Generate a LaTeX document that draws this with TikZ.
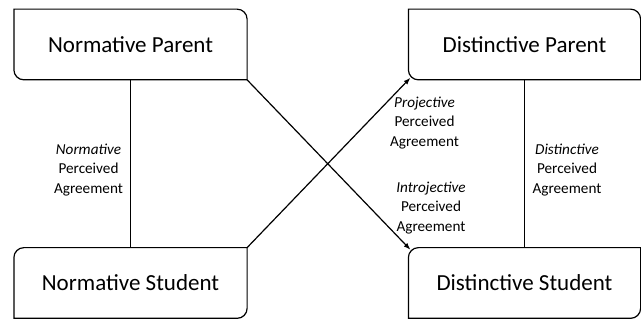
\documentclass[tikz,border=0pt]{standalone}
\usepackage{fontspec}
\setmainfont{Carlito}
\usetikzlibrary{arrows.meta}

\tikzset{
  box/.style={minimum width=232pt, minimum height=69.5pt, inner sep=0pt,
    font=\fontsize{23}{28}\selectfont},
  lbl/.style={align=center, inner sep=0pt, font=\fontsize{15.2}{19.8}\selectfont},
  arr/.style={-{Latex[length=7pt,width=5pt]}, shorten >=-3pt},
}

\begin{document}
\begin{tikzpicture}[x=1pt,y=1pt,line width=1.2pt]
  \useasboundingbox (0,0) rectangle (641,320);

  \node[box] (np) at (130.5,275.5) {Normative Parent};
  \node[box, minimum width=231pt] (dp) at (524.5,275.5) {Distinctive Parent};
  \node[box] (ns) at (130.5,37) {Normative Student};
  \node[box, minimum width=231pt] (ds) at (524.5,37) {Distinctive Student};

  % top boxes: round corners top right and bottom left
  \foreach \b in {np,dp}
    \draw (\b.north west) -- ([xshift=-10pt]\b.north east)
      arc[start angle=90, end angle=0, radius=10pt] -- (\b.south east)
      -- ([xshift=10pt]\b.south west)
      arc[start angle=270, end angle=180, radius=10pt] -- cycle;
  % bottom boxes: round corners top left and bottom right
  \foreach \b in {ns,ds}
    \draw (\b.north east) -- ([xshift=10pt]\b.north west)
      arc[start angle=90, end angle=180, radius=10pt] -- (\b.south west)
      -- ([xshift=-10pt]\b.south east)
      arc[start angle=270, end angle=360, radius=10pt] -- cycle;

  \draw (np) -- (ns);
  \draw (dp) -- (ds);
  \draw[arr] (np.south east) -- (ds.north west);
  \draw[arr] (ns.north east) -- (dp.south west);

  \node[lbl] (nlab) at (88.5,150) {\textit{Normative}\\Perceived\\Agreement};
  \node[lbl] (dlab) at (567,150) {\textit{Distinctive}\\Perceived\\Agreement};
  \node[lbl] (plab) at (424.5,197) {\textit{Projective}\\Perceived\\Agreement};
  \node[lbl] (ilab) at (431,112) {\textit{Introjective}\\Perceived\\Agreement};
\end{tikzpicture}
\end{document}
